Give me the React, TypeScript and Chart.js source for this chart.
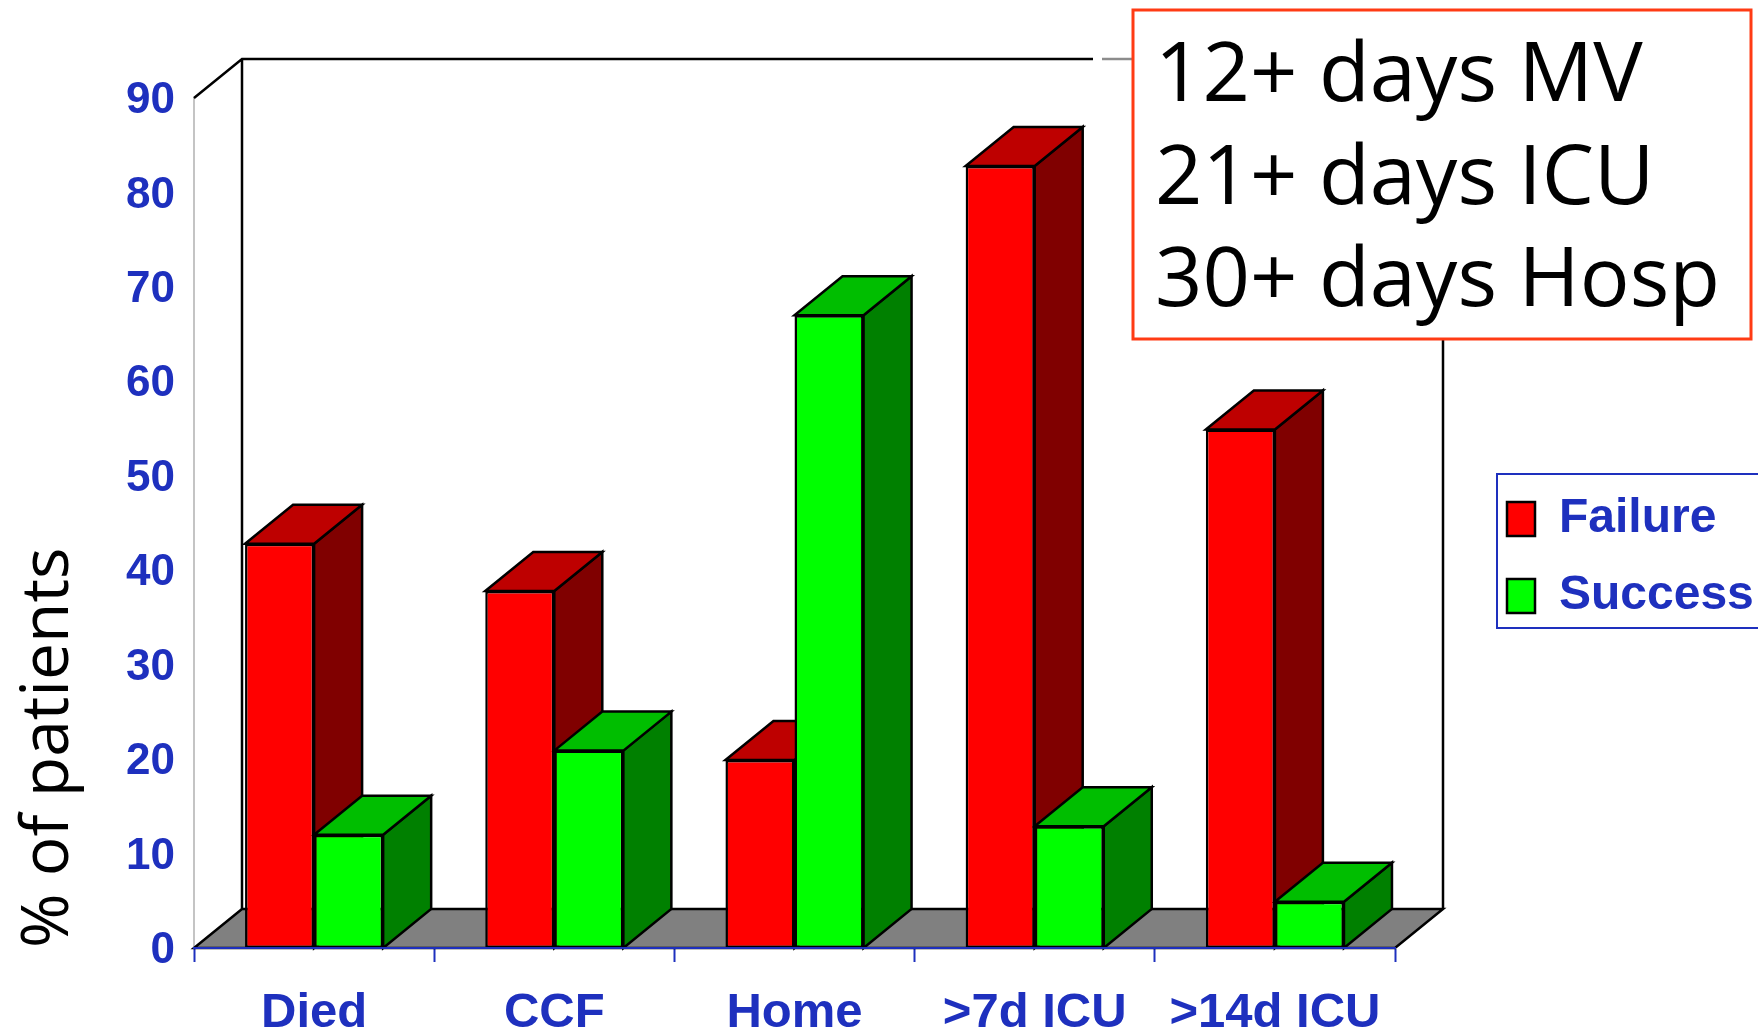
import React, { useEffect, useRef } from "react";
import { Chart, registerables } from "chart.js";

Chart.register(...registerables);

const categories = ["Died", "CCF", "Home", ">7d ICU", ">14d ICU"];
const failureValues = [42.8, 37.8, 19.9, 82.8, 54.9];
const successValues = [12, 20.9, 67, 12.9, 4.9];
const noteLines = ["12+ days MV", "21+ days ICU", "30+ days Hosp"];

const BLUE = "#1E30BE";
const DX = 48;
const DY = 39;
const faceColors = [
  { top: "#BE0000", side: "#800000" },
  { top: "#00BE00", side: "#008000" },
];

function poly(ctx: CanvasRenderingContext2D, pts: number[][], fill: string | null, stroke = true) {
  ctx.beginPath();
  pts.forEach((p, i) => (i ? ctx.lineTo(p[0], p[1]) : ctx.moveTo(p[0], p[1])));
  ctx.closePath();
  if (fill) {
    ctx.fillStyle = fill;
    ctx.fill();
  }
  if (stroke) ctx.stroke();
}

const legendPlacement = {
  id: "legendPlacement",
  beforeLayout(chart: any) {
    const l = chart.legend;
    if (!l.__patched) {
      const fit = l.fit.bind(l);
      l.fit = () => {
        fit();
        l.width = 0;
      };
      l.__patched = true;
    }
  },
  afterLayout(chart: any) {
    const l = chart.legend;
    l.left = 1478;
    l.right = 1758;
    l.top = 466;
    l.bottom = 1034;
  },
};

const scene3d = {
  id: "scene3d",
  beforeDatasetsDraw(chart: any) {
    const { ctx, chartArea: a } = chart;
    ctx.save();
    ctx.strokeStyle = "#000";
    ctx.lineWidth = 2.5;
    ctx.lineJoin = "miter";
    // back wall and side walls
    ctx.beginPath();
    ctx.moveTo(a.left, a.top);
    ctx.lineTo(a.left + DX, a.top - DY);
    ctx.lineTo(1093, a.top - DY);
    ctx.moveTo(a.left + DX, a.top - DY);
    ctx.lineTo(a.left + DX, a.bottom - DY);
    ctx.moveTo(a.right + DX, a.top - DY);
    ctx.lineTo(a.right + DX, a.bottom - DY);
    ctx.stroke();
    // short dashed remnant by the note box
    ctx.strokeStyle = "#8c8c8c";
    ctx.beginPath();
    ctx.moveTo(1102, a.top - DY);
    ctx.lineTo(1132, a.top - DY);
    ctx.stroke();
    ctx.strokeStyle = "#000";
    // floor
    poly(
      ctx,
      [
        [a.left, a.bottom],
        [a.left + DX, a.bottom - DY],
        [a.right + DX, a.bottom - DY],
        [a.right, a.bottom],
      ],
      "#808080",
    );
    // bar sides and tops
    chart.data.datasets.forEach((_: any, di: number) => {
      const meta = chart.getDatasetMeta(di);
      meta.data.forEach((bar: any) => {
        const l = bar.x - bar.width / 2;
        const r = bar.x + bar.width / 2;
        poly(
          ctx,
          [
            [r, bar.base],
            [r + DX, bar.base - DY],
            [r + DX, bar.y - DY],
            [r, bar.y],
          ],
          faceColors[di].side,
        );
        poly(
          ctx,
          [
            [l, bar.y],
            [l + DX, bar.y - DY],
            [r + DX, bar.y - DY],
            [r, bar.y],
          ],
          faceColors[di].top,
        );
      });
    });
    ctx.restore();
  },
  afterDraw(chart: any) {
    const { ctx } = chart;
    ctx.save();
    // legend frame
    ctx.strokeStyle = BLUE;
    ctx.lineWidth = 2;
    ctx.strokeRect(1497, 474, 280, 154);
    // note box
    ctx.fillStyle = "#fff";
    ctx.fillRect(1133, 10, 618, 329);
    ctx.strokeStyle = "#FF3B14";
    ctx.lineWidth = 3;
    ctx.strokeRect(1133, 10, 618, 329);
    ctx.fillStyle = "#000";
    ctx.textAlign = "left";
    ctx.textBaseline = "alphabetic";
    ctx.font = '83px "Open Sans"';
    const baselines = [101, 204, 306];
    noteLines.forEach((t, i) => ctx.fillText(t, 1155, baselines[i]));
    ctx.restore();
  },
};

export default function App() {
  const ref = useRef<HTMLCanvasElement>(null);
  useEffect(() => {
    document.body.style.margin = "0";
    const chart = new Chart(ref.current!, {
      type: "bar",
      data: {
        labels: categories,
        datasets: [
          { label: "Failure", data: failureValues, backgroundColor: "#FF0000", borderColor: "#000", borderWidth: 2.5, borderSkipped: false },
          { label: "Success", data: successValues, backgroundColor: "#00FF00", borderColor: "#000", borderWidth: 2.5, borderSkipped: false },
        ],
      },
      plugins: [legendPlacement, scene3d],
      options: {
        animation: false,
        responsive: false,
        devicePixelRatio: 1,
        layout: { padding: { top: 98, right: 363, bottom: 0, left: 0 } },
        datasets: { bar: { barPercentage: 1, categoryPercentage: 0.575 } },
        plugins: {
          tooltip: { enabled: false },
          legend: {
            position: "right",
            align: "start",
            labels: {
              boxWidth: 28,
              boxHeight: 34,
              padding: 29,
              color: BLUE,
              font: { family: '"Liberation Sans"', size: 48, weight: "bold" },
            },
          },
        },
        scales: {
          x: {
            afterFit: (s: any) => {
              s.height = 86;
            },
            grid: { drawOnChartArea: false, color: BLUE, tickColor: BLUE, tickLength: 14, tickWidth: 2 },
            border: { color: BLUE, width: 2, z: 1 },
            ticks: {
              color: BLUE,
              padding: 22,
              maxRotation: 0,
              autoSkip: false,
              font: { family: '"Liberation Sans"', size: 49, weight: "bold" },
            },
          },
          y: {
            min: 0,
            max: 90,
            afterFit: (s: any) => {
              s.width = 194;
            },
            grid: { display: false, drawTicks: false },
            border: { display: true, color: "#c4c4c4", width: 2 },
            ticks: {
              stepSize: 10,
              color: BLUE,
              padding: 19,
              labelOffset: 3,
              font: { family: '"Liberation Sans"', size: 44, weight: "bold" },
            },
            title: {
              display: true,
              text: "% of patients",
              align: "start",
              color: "#000",
              padding: { top: 10, bottom: 0 },
              font: { family: '"Open Sans"', size: 66, weight: "normal" },
            },
          },
        },
      } as any,
    });
    return () => chart.destroy();
  }, []);
  return <canvas ref={ref} width={1758} height={1034} style={{ display: "block", position: "absolute", left: 0, top: 0 }} />;
}
